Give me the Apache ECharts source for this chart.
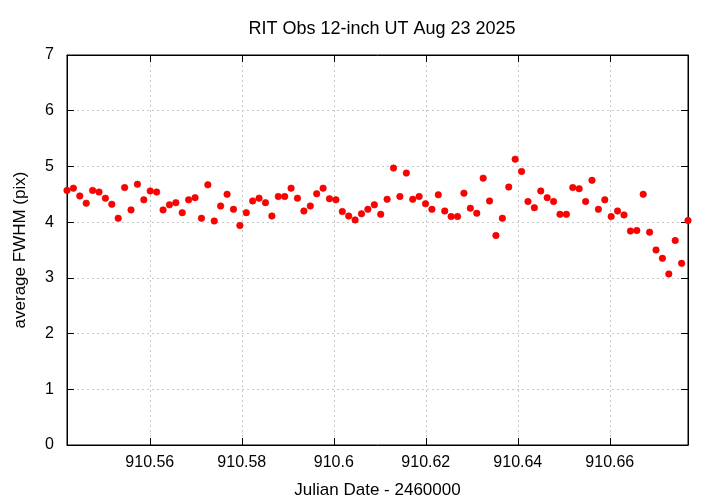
<!DOCTYPE html>
<html>
<head>
<meta charset="utf-8">
<script src="https://cdn.jsdelivr.net/npm/echarts@6/dist/echarts.min.js"></script>
<style>
html,body{margin:0;padding:0;background:#fff;}
#chart{width:720px;height:504px;}
</style>
</head>
<body>
<div id="chart"></div>
<script>
const titleText = "RIT Obs 12-inch UT Aug 23 2025";
const xName = "Julian Date - 2460000";
const yName = "average FWHM (pix)";

const jd = [
910.54200,910.54339,910.54478,910.54618,910.54757,910.54896,910.55035,910.55174,910.55313,910.55453,
910.55592,910.55731,910.55870,910.56009,910.56149,910.56288,910.56427,910.56566,910.56705,910.56844,
910.56984,910.57123,910.57262,910.57401,910.57540,910.57680,910.57819,910.57958,910.58097,910.58236,
910.58375,910.58515,910.58654,910.58793,910.58932,910.59071,910.59210,910.59350,910.59489,910.59628,
910.59767,910.59906,910.60046,910.60185,910.60324,910.60463,910.60602,910.60741,910.60881,910.61020,
910.61159,910.61298,910.61437,910.61577,910.61716,910.61855,910.61994,910.62133,910.62272,910.62412,
910.62551,910.62690,910.62829,910.62968,910.63108,910.63247,910.63386,910.63525,910.63664,910.63803,
910.63943,910.64082,910.64221,910.64360,910.64499,910.64639,910.64778,910.64917,910.65056,910.65195,
910.65334,910.65474,910.65613,910.65752,910.65891,910.66030,910.66169,910.66309,910.66448,910.66587,
910.66726,910.66865,910.67005,910.67144,910.67283,910.67422,910.67561,910.67700
];

const fwhm = [
4.57,4.61,4.47,4.34,4.57,4.54,4.43,4.32,4.07,4.62,
4.22,4.68,4.40,4.56,4.54,4.22,4.31,4.35,4.17,4.40,
4.44,4.07,4.67,4.02,4.29,4.50,4.23,3.94,4.17,4.38,
4.43,4.35,4.11,4.46,4.46,4.61,4.43,4.20,4.29,4.51,
4.61,4.42,4.40,4.19,4.11,4.04,4.15,4.23,4.31,4.14,
4.41,4.97,4.46,4.88,4.41,4.46,4.33,4.23,4.49,4.20,
4.10,4.10,4.52,4.25,4.16,4.79,4.38,3.76,4.07,4.63,
5.13,4.91,4.37,4.26,4.56,4.44,4.37,4.14,4.14,4.62,
4.60,4.37,4.75,4.23,4.40,4.10,4.20,4.13,3.84,3.85,
4.50,3.82,3.50,3.35,3.07,3.67,3.26,4.03
];

const yTicks = [0,1,2,3,4,5,6,7];

const points = jd.map((x, i) => [x, fwhm[i]]);
const xMin = jd[0], xMax = jd[jd.length - 1];

const font = "'Liberation Sans', Arial, Helvetica, sans-serif";
const fmtX = v => String(parseFloat((+v).toFixed(4)));

const chart = echarts.init(document.getElementById('chart'), null, {renderer: 'canvas'});
const gridLine = {show: true, lineStyle: {color: '#c8c8c8', width: 1, type: [2, 3]}};
chart.setOption({
  animation: false,
  backgroundColor: '#ffffff',
  title: {
    text: titleText, left: 377, top: 15, textAlign: 'center',
    textStyle: {fontFamily: font, fontSize: 18, fontWeight: 'normal', color: '#000'}
  },
  grid: {left: 67, right: 32, top: 55, bottom: 59, show: true, borderColor: '#000', borderWidth: 1, containLabel: false},
  xAxis: [
    {
      type: 'value', min: xMin, max: xMax, splitNumber: 7, position: 'bottom',
      name: xName, nameLocation: 'middle', nameGap: 37,
      nameTextStyle: {fontFamily: font, fontSize: 17, color: '#000'},
      axisLine: {show: true, onZero: false, lineStyle: {color: '#000', width: 1}},
      axisTick: {show: true, inside: true, length: 7, lineStyle: {color: '#000'}},
      axisLabel: {show: true, margin: 10, fontFamily: font, fontSize: 16, color: '#000',
        showMinLabel: false, showMaxLabel: false, formatter: fmtX},
      splitLine: gridLine
    },
    {
      type: 'value', min: xMin, max: xMax, splitNumber: 7, position: 'top',
      axisLine: {show: true, onZero: false, lineStyle: {color: '#000', width: 1}},
      axisTick: {show: true, inside: true, length: 7, lineStyle: {color: '#000'}},
      axisLabel: {show: false}, splitLine: {show: false}
    }
  ],
  yAxis: [
    {
      type: 'value', min: yTicks[0], max: yTicks[yTicks.length - 1], interval: 1, position: 'left',
      name: yName, nameLocation: 'middle', nameGap: 38, nameRotate: 90,
      nameTextStyle: {fontFamily: font, fontSize: 17, color: '#000'},
      axisLine: {show: true, onZero: false, lineStyle: {color: '#000', width: 1}},
      axisTick: {show: true, inside: true, length: 7, lineStyle: {color: '#000'}},
      axisLabel: {show: true, margin: 13, fontFamily: font, fontSize: 16, color: '#000'},
      splitLine: gridLine
    },
    {
      type: 'value', min: yTicks[0], max: yTicks[yTicks.length - 1], interval: 1, position: 'right',
      axisLine: {show: true, onZero: false, lineStyle: {color: '#000', width: 1}},
      axisTick: {show: true, inside: true, length: 7, lineStyle: {color: '#000'}},
      axisLabel: {show: false}, splitLine: {show: false}
    }
  ],
  series: [{
    type: 'scatter', xAxisIndex: 0, yAxisIndex: 0,
    data: points, symbol: 'circle', symbolSize: 6.5,
    itemStyle: {color: '#ff0000', borderColor: '#e00000', borderWidth: 0.6, opacity: 1},
    clip: false, z: 5
  }]
});
</script>
</body>
</html>
